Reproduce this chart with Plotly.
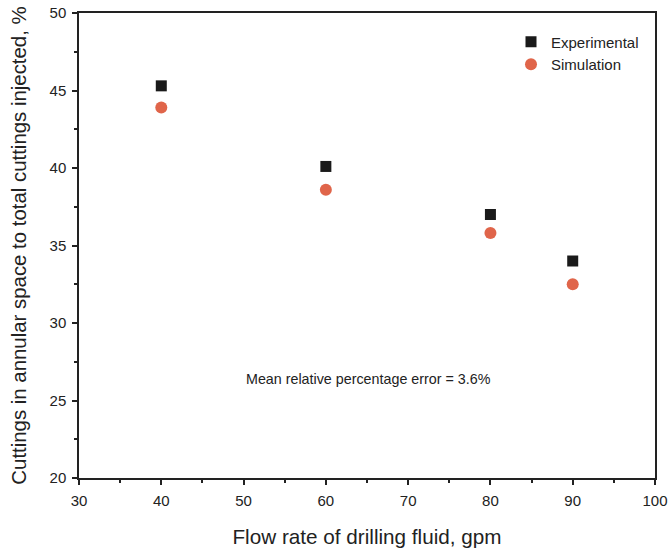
import plotly.graph_objects as go

flow_rate = [40, 60, 80, 90]
experimental = [45.3, 40.1, 37.0, 34.0]
simulation = [43.9, 38.6, 35.8, 32.5]

x_ticks = [30, 40, 50, 60, 70, 80, 90, 100]
y_ticks = [20, 25, 30, 35, 40, 45, 50]

FONT = "Liberation Sans, Arial, sans-serif"

fig = go.Figure()
fig.add_trace(go.Scatter(
    x=flow_rate, y=experimental, mode="markers", name="Experimental",
    marker=dict(symbol="square", size=11, color="#1a1a1a"),
))
fig.add_trace(go.Scatter(
    x=flow_rate, y=simulation, mode="markers", name="Simulation",
    marker=dict(symbol="circle", size=12, color="#e0654a"),
))

axis_common = dict(
    showline=True, linecolor="#222", linewidth=1.5, mirror=True,
    ticks="outside", ticklen=5, tickwidth=1.5, tickcolor="#222",
    showgrid=False, zeroline=False, automargin=False,
    ticklabeloverflow="allow",
    tickfont=dict(family=FONT, size=15, color="#222"),
)

fig.update_xaxes(
    range=[30, 100], tickvals=x_ticks,
    minor=dict(ticks="outside", ticklen=3, dtick=5, tick0=30, tickcolor="#222", tickwidth=1.5),
    title=dict(text="Flow rate of drilling fluid, gpm",
               font=dict(family=FONT, size=20.7, color="#222"), standoff=22),
    ticklabelstandoff=3,
    **axis_common,
)
fig.update_yaxes(
    range=[20, 50], tickvals=y_ticks,
    minor=dict(ticks="outside", ticklen=3, dtick=2.5, tick0=20, tickcolor="#222", tickwidth=1.5),
    title=dict(text="Cuttings in annular space to total cuttings injected, %",
               font=dict(family=FONT, size=20.4, color="#222"), standoff=17),
    ticklabelstandoff=3,
    **axis_common,
)

fig.add_annotation(
    x=65.2, y=26.4, xref="x", yref="y", showarrow=False,
    text="Mean relative percentage error = 3.6%",
    font=dict(family=FONT, size=14.3, color="#222"),
)

fig.update_layout(
    width=668, height=553,
    margin=dict(l=79, r=13, t=13, b=75),
    paper_bgcolor="white", plot_bgcolor="white",
    showlegend=True,
    legend=dict(x=0.75, y=0.973, xanchor="left", yanchor="top",
                font=dict(family=FONT, size=15, color="#222"),
                bgcolor="rgba(0,0,0,0)", tracegroupgap=0),
)

fig.write_html("out.html")
